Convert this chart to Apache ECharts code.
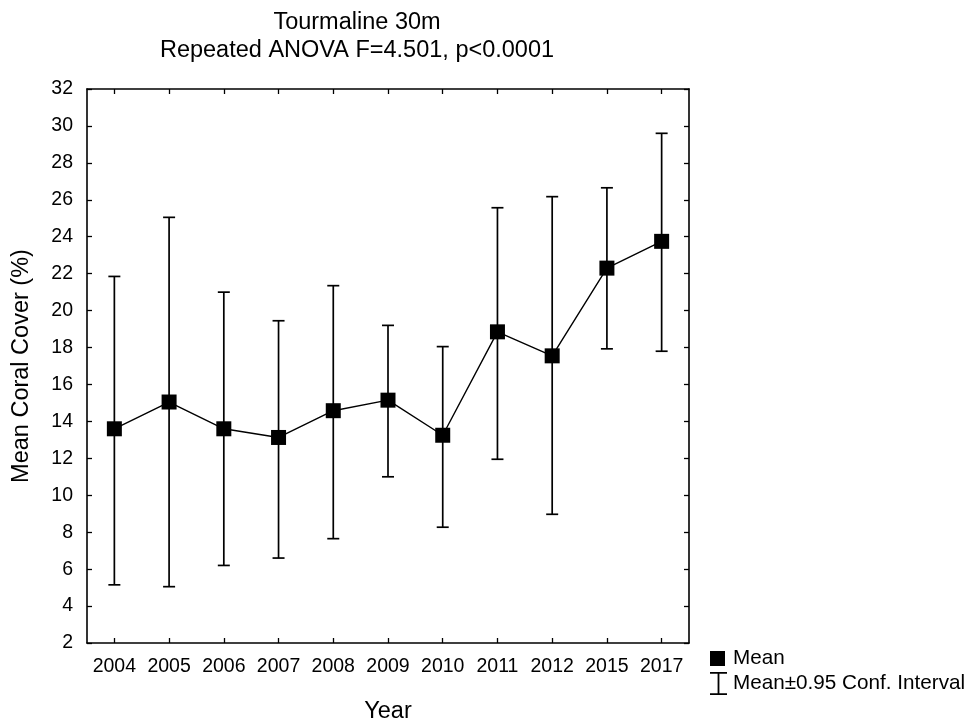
<!DOCTYPE html>
<html>
<head>
<meta charset="utf-8">
<script src="https://cdn.jsdelivr.net/npm/echarts@6/dist/echarts.min.js"></script>
<style>html,body{margin:0;padding:0;background:#fff}#c{width:974px;height:719px}</style>
</head>
<body>
<div id="c"></div>
<script>
const years = ['2004','2005','2006','2007','2008','2009','2010','2011','2012','2015','2017'];
const means = [13.6, 15.05, 13.6, 13.13, 14.58, 15.15, 13.25, 18.85, 17.55, 22.3, 23.75];
const upper = [21.85, 25.05, 21.0, 19.45, 21.35, 19.2, 18.05, 25.57, 26.17, 26.65, 29.6];
const lower = [5.15, 5.05, 6.2, 6.6, 7.65, 11.0, 8.27, 11.95, 8.97, 17.93, 17.8];
const yTicks = [2,4,6,8,10,12,14,16,18,20,22,24,26,28,30,32];

const errData = years.map((y, i) => [i, lower[i], upper[i]]);
const font = 'Liberation Sans, Arial, sans-serif';

const chart = echarts.init(document.getElementById('c'), null, {renderer: 'canvas'});
const axisLine = {show: true, lineStyle: {color: '#000', width: 1.6}};
const tick = {show: true, inside: true, length: 5, lineStyle: {color: '#000', width: 1.3}};
const titleStyle = {fontFamily: font, fontSize: 23.5, fontWeight: 'normal', color: '#000'};
chart.setOption({
  animation: false,
  backgroundColor: '#fff',
  title: [
    {text: 'Tourmaline 30m', left: 357, textAlign: 'center', top: 10.5, padding: 0, textStyle: titleStyle},
    {text: 'Repeated ANOVA F=4.501, p<0.0001', left: 357, textAlign: 'center', top: 39, padding: 0, textStyle: titleStyle}
  ],
  grid: {left: 87, right: 285, top: 89, bottom: 76, containLabel: false, outerBoundsMode: 'none'},
  legend: [
    {
      left: 710, top: 648, padding: 0, itemWidth: 15, itemHeight: 15,
      textStyle: {fontFamily: font, fontSize: 20.7, color: '#000', padding: [0, 0, 0, 3]},
      data: [{name: 'Mean', icon: 'rect'}]
    },
    {
      left: 710, top: 672, padding: 0, itemWidth: 17, itemHeight: 23,
      textStyle: {fontFamily: font, fontSize: 20.7, color: '#000', padding: [0, 0, 0, 1]},
      data: [{name: 'Mean±0.95 Conf. Interval',
              icon: 'path://M0,0h17v1.8h-17z M7.6,0h1.8v23h-1.8z M0,21.2h17v1.8h-17z'}]
    }
  ],
  xAxis: [
    {type: 'category', data: years, boundaryGap: true, position: 'bottom',
     axisLine: axisLine, axisTick: Object.assign({alignWithLabel: true}, tick),
     axisLabel: {fontFamily: font, fontSize: 19.5, color: '#000', margin: 13.5, interval: 0},
     name: 'Year', nameLocation: 'middle', nameGap: 57,
     nameTextStyle: {fontFamily: font, fontSize: 23.5, color: '#000'}},
    {type: 'category', data: years, boundaryGap: true, position: 'top',
     axisLine: axisLine, axisTick: Object.assign({alignWithLabel: true}, tick),
     axisLabel: {show: false}}
  ],
  yAxis: [
    {type: 'value', min: 2, max: 32, interval: 2, position: 'left',
     axisLine: axisLine, axisTick: tick, splitLine: {show: false},
     axisLabel: {fontFamily: font, fontSize: 19.5, color: '#000', margin: 14},
     name: 'Mean Coral Cover (%)', nameLocation: 'middle', nameGap: 53,
     nameTextStyle: {fontFamily: font, fontSize: 23.5, color: '#000'}},
    {type: 'value', min: 2, max: 32, interval: 2, position: 'right',
     axisLine: axisLine, axisTick: tick, splitLine: {show: false},
     axisLabel: {show: false}}
  ],
  series: [
    {
      name: 'Mean', type: 'line', data: means, xAxisIndex: 0, yAxisIndex: 0,
      symbol: 'rect', symbolSize: 15, z: 5,
      lineStyle: {color: '#000', width: 1.4},
      itemStyle: {color: '#000'}
    },
    {
      name: 'Mean±0.95 Conf. Interval', type: 'custom', data: errData,
      xAxisIndex: 0, yAxisIndex: 0, z: 3,
      itemStyle: {color: '#000'},
      encode: {x: 0, y: [1, 2]},
      renderItem: function (params, api) {
        const i = api.value(0);
        const lo = api.coord([i, api.value(1)]);
        const hi = api.coord([i, api.value(2)]);
        const hw = 6;
        const style = {stroke: '#000', lineWidth: 1.7, fill: null};
        return {
          type: 'group',
          children: [
            {type: 'line', shape: {x1: lo[0], y1: lo[1], x2: hi[0], y2: hi[1]}, style: style},
            {type: 'line', shape: {x1: lo[0] - hw, y1: lo[1], x2: lo[0] + hw, y2: lo[1]}, style: style},
            {type: 'line', shape: {x1: hi[0] - hw, y1: hi[1], x2: hi[0] + hw, y2: hi[1]}, style: style}
          ]
        };
      }
    }
  ]
});
</script>
</body>
</html>
